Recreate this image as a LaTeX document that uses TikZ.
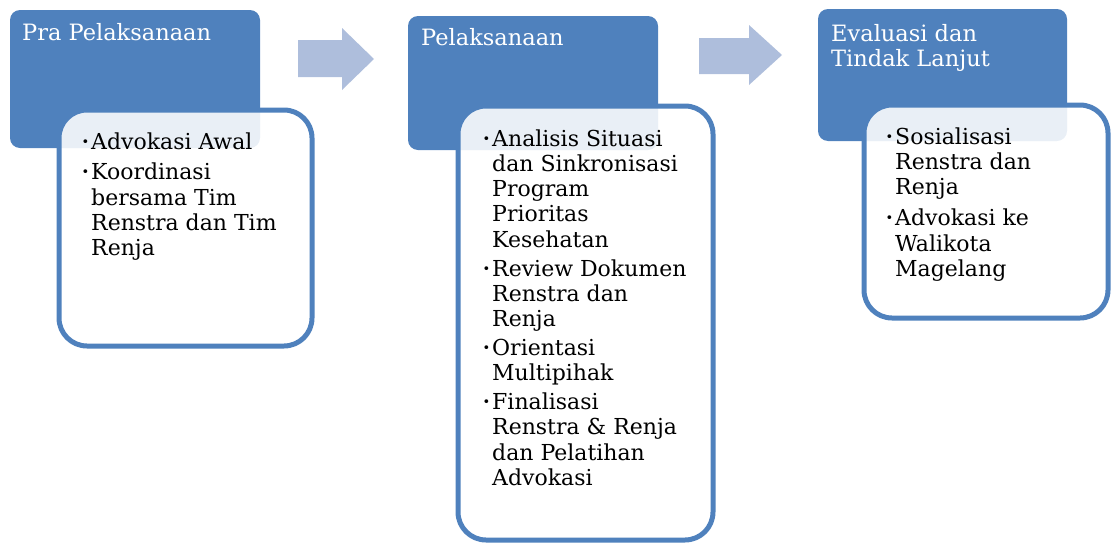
\documentclass[tikz,border=0pt]{standalone}
\usepackage{fontspec}
\setmainfont{DejaVu Serif}
\definecolor{hdblue}{RGB}{79,129,189}
\definecolor{arrblue}{RGB}{174,190,220}
\newcommand\bul{\leavevmode\llap{\raisebox{3pt}{\fontsize{13}{13}\selectfont •}\hspace{2pt}}}
\newcommand\blk[1]{\parbox[t]{240pt}{\raggedright #1}}
\tikzset{
  hdbox/.style={fill=hdblue, rounded corners=10pt},
  ctbox/.style={draw=hdblue, line width=5pt, fill=white, fill opacity=0.88, rounded corners=28pt},
  arr/.style={fill=arrblue},
  hdtext/.style={anchor=base west, inner sep=0pt, text=white, font=\fontsize{22.5}{25.3}\selectfont},
  cttext/.style={anchor=base west, inner sep=0pt, text=black, font=\fontsize{22}{25.3}\selectfont},
}
\begin{document}
\begin{tikzpicture}[x=1pt,y=-1pt]
\useasboundingbox (0,0) rectangle (1111,544);
% column 1
\fill[hdbox] (10,10) rectangle (260,148);
\node[hdtext] (t1) at (22,40) {\blk{Pra Pelaksanaan}};
\draw[ctbox] (59,110) rectangle (312,346);
\node[cttext] (c1) at (91,149) {\blk{\bul Advokasi Awal\\[5.5pt]
\bul Koordinasi\\ bersama Tim\\ Renstra dan Tim\\ Renja}};
\fill[arr] (298,40) -- (342,40) -- (342,28) -- (374,59) -- (342,90) -- (342,77) -- (298,77) -- cycle;
% column 2
\fill[hdbox] (408,16) rectangle (658,150);
\node[hdtext] (t2) at (421,45) {\blk{Pelaksanaan}};
\draw[ctbox] (458,106) rectangle (713,540);
\node[cttext] (c2) at (492,146) {\blk{\bul Analisis Situasi\\ dan Sinkronisasi\\ Program\\ Prioritas\\ Kesehatan\\[3.5pt]
\bul Review Dokumen\\ Renstra dan\\ Renja\\[3.5pt]
\bul Orientasi\\ Multipihak\\[3.5pt]
\bul Finalisasi\\ Renstra \& Renja\\ dan Pelatihan\\ Advokasi}};
\fill[arr] (699,38) -- (749,38) -- (749,25) -- (782,55) -- (749,85) -- (749,74) -- (699,74) -- cycle;
% column 3
\fill[hdbox] (818,9) rectangle (1067,141);
\node[hdtext] (t3) at (831,41) {\blk{Evaluasi dan\\ Tindak Lanjut}};
\draw[ctbox] (864,105) rectangle (1108,318);
\node[cttext] (c3) at (895,144) {\blk{\bul Sosialisasi\\ Renstra dan\\ Renja\\[6pt]
\bul Advokasi ke\\ Walikota\\ Magelang}};
\end{tikzpicture}
\end{document}
